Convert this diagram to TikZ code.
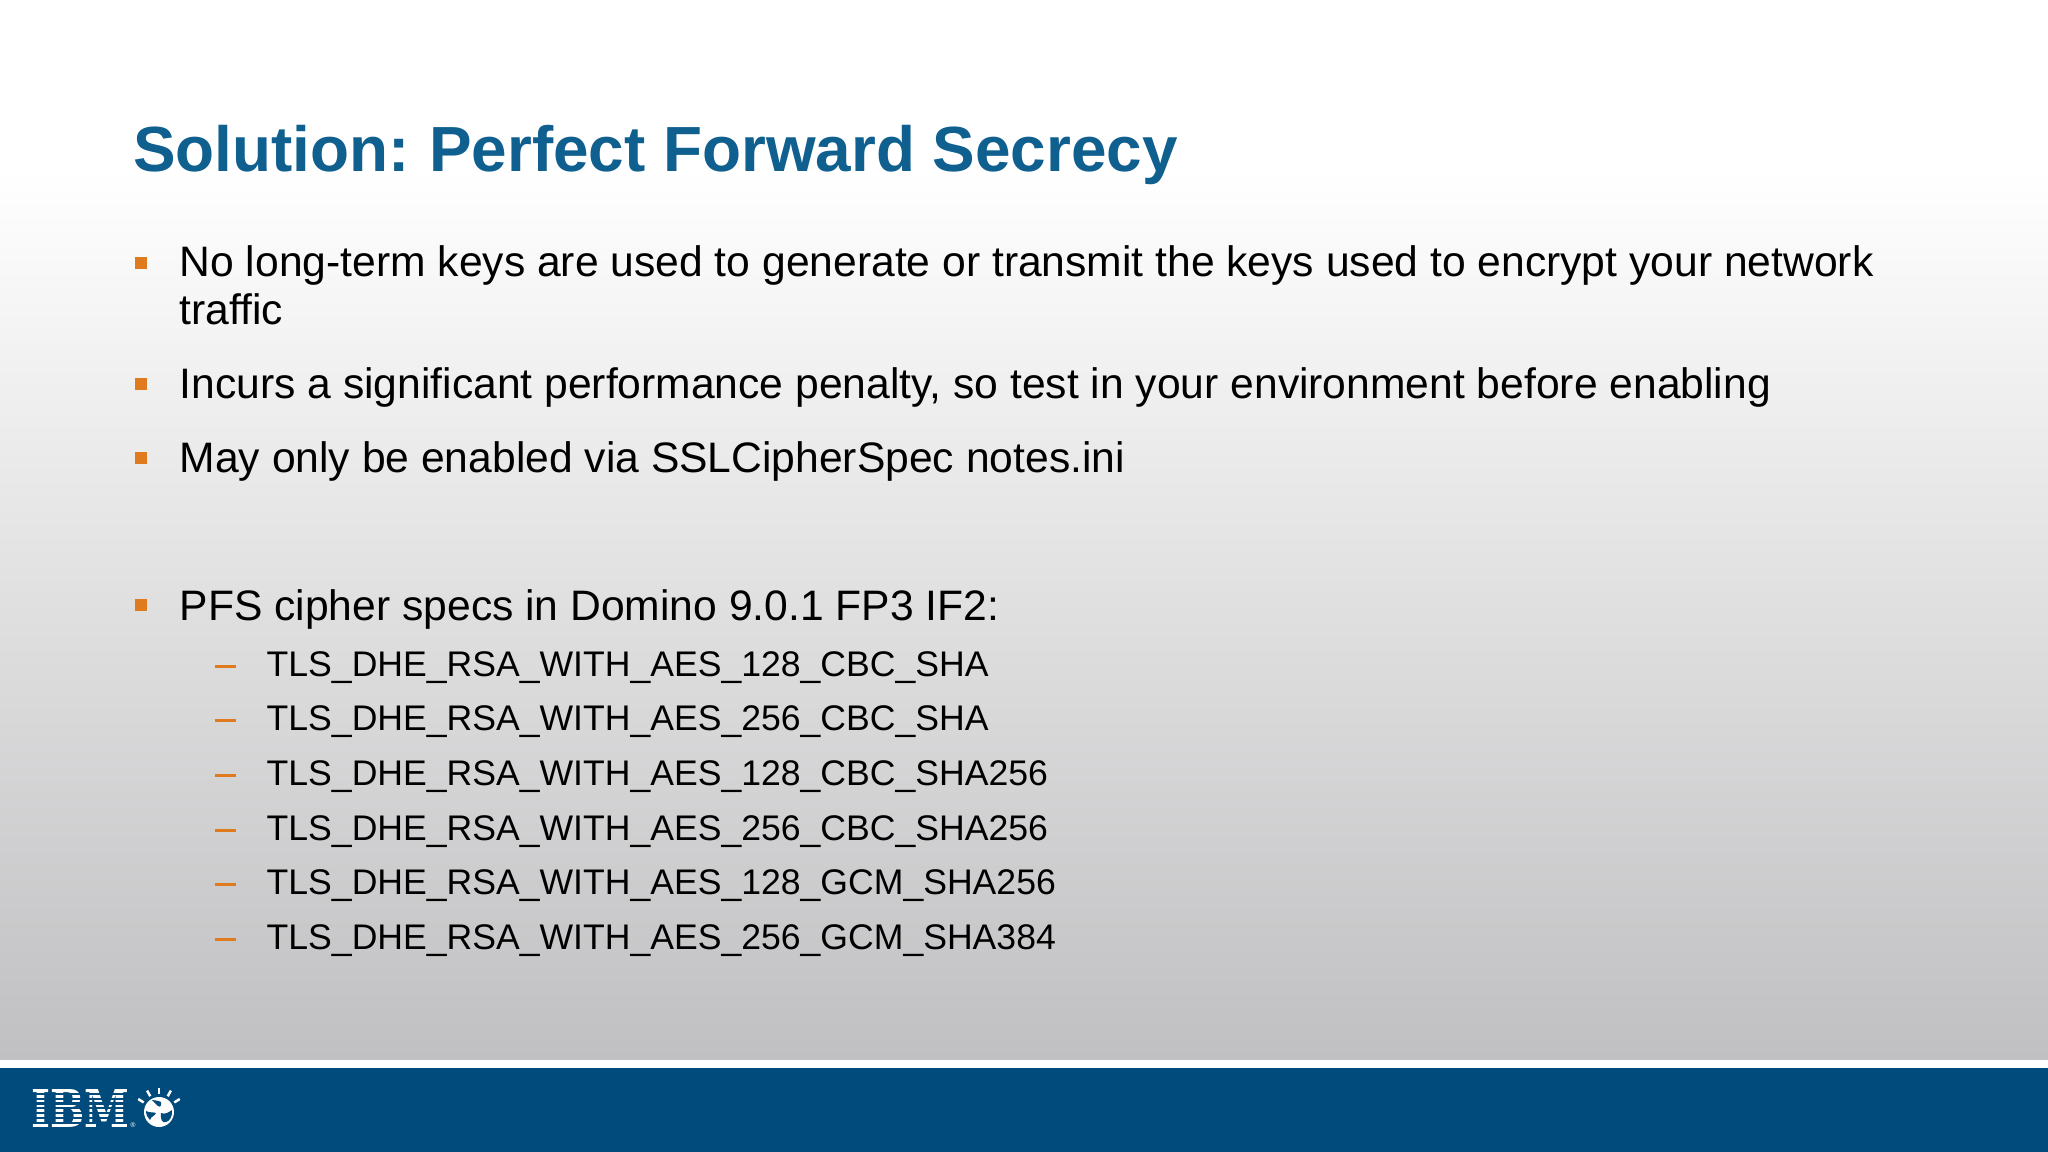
\documentclass[tikz,border=0pt]{standalone}
\usepackage{fontspec}
\setmainfont{Liberation Sans}
\newfontfamily\logofont{DejaVu Serif}
\definecolor{ibmblue}{HTML}{004B7C}
\definecolor{titleblue}{HTML}{0F5F8F}
\definecolor{markorange}{HTML}{DF7A1E}
\definecolor{slidegray}{HTML}{C0BFC1}
\tikzset{
	titletext/.style={anchor=base west, inner sep=0pt, text=titleblue, font=\fontsize{18.15}{20}\selectfont\bfseries},
	bodytext/.style={anchor=base west, inner sep=0pt, font=\fontsize{12.12}{14}\selectfont},
	subtext/.style={anchor=base west, inner sep=0pt, font=\fontsize{10.12}{12}\selectfont},
	squaremark/.style={fill=markorange, draw=none, minimum size=3.4pt, inner sep=0pt},
	dashmark/.style={draw=markorange, line width=1pt},
	logostripe/.style={fill=ibmblue, draw=none}
}
\begin{document}
\begin{tikzpicture}[x=0.01cm, y=-0.01cm]
	% background
	\fill[white] (0,0) rectangle (2048,1152);
	\shade[top color=white, bottom color=slidegray] (0,170) rectangle (2048,1059);
	\fill[ibmblue] (0,1068) rectangle (2048,1152);
	\useasboundingbox (0,0) rectangle (2048,1152);
	% title
	\node[titletext] (title) at (132.5,172) {Solution:\hspace{-1.2pt} Perfect Forward Secrecy};
	% main points
	\node[bodytext] (noKeys) at (179,277) {No long-term keys are used to generate or transmit the keys used to encrypt your network};
	\node[bodytext] (traffic) at (179,325) {traffic};
	\node[bodytext] (penalty) at (179,399) {Incurs a significant performance penalty, so test in your environment before enabling};
	\node[bodytext] (notes) at (179,472) {May only be enabled via SSLCipherSpec notes.ini};
	\node[bodytext] (specs) at (179,620) {PFS cipher specs in Domino 9.0.1 FP3 IF2:};
	\foreach \y in {263,384,458,605}
		\node[squaremark] at (141,\y) {};
	% cipher specs
	\foreach \y/\name in {
		676/TLS\_DHE\_RSA\_WITH\_AES\_128\_CBC\_SHA,
		730/TLS\_DHE\_RSA\_WITH\_AES\_256\_CBC\_SHA,
		785/TLS\_DHE\_RSA\_WITH\_AES\_128\_CBC\_SHA256,
		840/TLS\_DHE\_RSA\_WITH\_AES\_256\_CBC\_SHA256,
		894/TLS\_DHE\_RSA\_WITH\_AES\_128\_GCM\_SHA256,
		949/TLS\_DHE\_RSA\_WITH\_AES\_256\_GCM\_SHA384}{
		\node[subtext] at (266,\y) {\name};
		\draw[dashmark] (215,\y-9.5) -- (236,\y-9.5);
	}
	% logo
	\node[inner sep=0pt, anchor=north west, text=white] (ibm) at (31,1089)
		{\resizebox{27.9pt}{10.8pt}{\logofont\bfseries IBM}};
	\foreach \i in {1,...,7}
		\fill[logostripe] (29,1089+\i*4.85-1.2) rectangle (131,1089+\i*4.85+1.0);
	\node[inner sep=0pt, text=white, font=\fontsize{2}{2}\selectfont] (reg) at (133,1125) {®};
	% globe
	\coordinate (globe) at (159,1112);
	\fill[white] (globe) circle (15);
	\fill[ibmblue] (161,1113) .. controls (165,1115) and (169,1112) .. (172,1110) .. controls (173,1116) and (169,1122) .. (166,1122) .. controls (162,1124) and (160,1118) .. cycle;
	\fill[ibmblue] (146,1111) .. controls (150,1113) and (154,1112) .. (156,1113) .. controls (155,1116) and (151,1116) .. (150,1120) .. controls (148,1118) and (146,1115) .. cycle;
	\fill[ibmblue] (152,1100) .. controls (155,1100) and (159,1101) .. (161,1102) .. controls (162,1105) and (160,1108) .. (158,1106) .. controls (156,1104) and (154,1102) .. cycle;
	\foreach \a in {-32,-61,-90,-119,-148}
		\draw[white, line width=0.7pt] (globe) ++(\a:18) -- ++(\a:6.5);
\end{tikzpicture}
\end{document}
